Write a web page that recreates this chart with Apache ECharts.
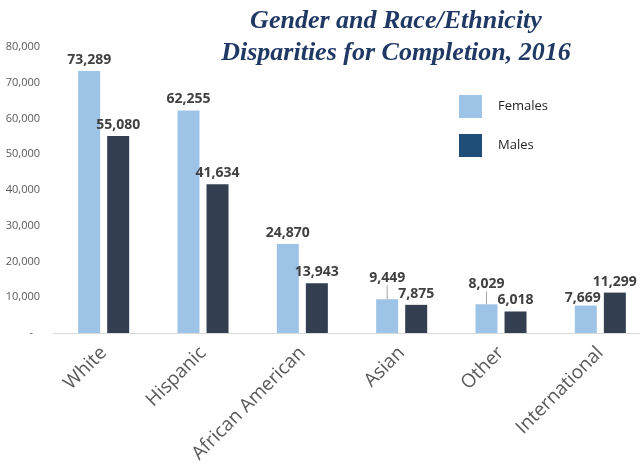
<!DOCTYPE html>
<html>
<head>
<meta charset="utf-8">
<script src="https://cdn.jsdelivr.net/npm/echarts@6/dist/echarts.min.js"></script>
<style>html,body{margin:0;padding:0;background:#fff;overflow:hidden;}#c{width:660px;height:468px;}</style>
</head>
<body>
<div id="c"></div>
<script>
const titleLines = ['Gender and Race/Ethnicity', 'Disparities for Completion, 2016'];
const categories = ['White', 'Hispanic', 'African American', 'Asian', 'Other', 'International'];
const females = [73289, 62255, 24870, 9449, 8029, 7669];
const males = [55080, 41634, 13943, 7875, 6018, 11299];
const seriesNames = ['Females', 'Males'];
const yMin = 0, yMax = 80000, yStep = 10000;

const chart = echarts.init(document.getElementById('c'), null, {renderer: 'canvas'});
const fmt = v => v.toLocaleString('en-US');
const labelFont = {fontFamily: 'Open Sans', fontWeight: 'bold', fontSize: 14, color: '#404040'};
const leaderIdx = [3, 4];

chart.setOption({
  animation: false,
  backgroundColor: '#fff',
  title: {
    text: titleLines.join('\n'),
    left: 391, top: 0, textAlign: 'center',
    textStyle: {fontFamily: 'Liberation Serif', fontStyle: 'italic', fontWeight: 'bold', fontSize: 26, lineHeight: 32, color: '#1F3864'}
  },
  legend: {
    orient: 'vertical', left: 454, top: 90,
    itemWidth: 23, itemHeight: 23, itemGap: 16,
    icon: 'rect',
    textStyle: {fontFamily: 'Open Sans', fontSize: 13, color: '#262626', padding: [0, 0, 2, 11]},
    data: [
      {name: seriesNames[0], itemStyle: {color: '#9DC3E6'}},
      {name: seriesNames[1], itemStyle: {color: '#1F4E79'}}
    ]
  },
  grid: {left: 54, top: 47, width: 596, height: 286, containLabel: false},
  xAxis: {
    type: 'category', data: categories,
    axisLine: {lineStyle: {color: '#D9D9D9', width: 1}},
    axisTick: {show: false},
    axisLabel: {rotate: 45, margin: 17, interval: 0, fontFamily: 'Open Sans', fontSize: 19, color: '#595959'}
  },
  yAxis: {
    type: 'value', min: yMin, max: yMax, interval: yStep,
    splitLine: {show: false}, axisLine: {show: false}, axisTick: {show: false},
    axisLabel: {
      margin: 14, fontFamily: 'Open Sans', fontSize: 11, color: '#595959',
      formatter: v => v === 0 ? '{z|-}' : fmt(v),
      rich: {z: {fontFamily: 'Open Sans', fontSize: 11, color: '#595959', padding: [0, 7, 0, 0]}}
    }
  },
  series: [
    {
      name: seriesNames[0], type: 'bar',
      data: females.map((v, i) => leaderIdx.includes(i)
        ? {value: v, labelLine: {show: true, lineStyle: {color: '#A6A6A6', width: 1}}}
        : v),
      barWidth: 22, barGap: '32%',
      itemStyle: {color: '#9DC3E6'},
      label: Object.assign({show: true, position: 'top', distance: 4, formatter: p => fmt(p.value)}, labelFont),
      labelLine: {show: false},
      labelLayout: p => {
        if (p.dataIndex === 3) return {dy: -10};
        if (p.dataIndex === 4) return {dy: -9};
        if (p.dataIndex === 5) return {dx: -3, dy: 3};
        return {};
      }
    },
    {
      name: seriesNames[1], type: 'bar', data: males,
      barWidth: 22,
      itemStyle: {color: '#333F50'},
      label: Object.assign({show: true, position: 'top', distance: 4, formatter: p => fmt(p.value)}, labelFont)
    }
  ]
});
</script>
</body>
</html>
